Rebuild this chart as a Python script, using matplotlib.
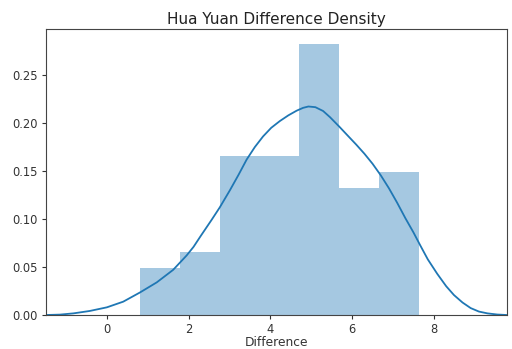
import numpy as np
import matplotlib
matplotlib.use("Agg")
import matplotlib.pyplot as plt

# Histogram (density)
bin_edges = [0.81, 1.79, 2.76, 3.74, 4.71, 5.69, 6.66, 7.64]
densities = [0.0486, 0.0653, 0.166, 0.166, 0.282, 0.132, 0.149]

# KDE curve points
kde_x = [-1.49, -1.15, -0.82, -0.42, 0.0, 0.4, 0.81, 1.22, 1.62, 1.95, 2.12,
         2.29, 2.56, 2.76, 3.01, 3.22, 3.42, 3.62, 3.82, 4.02, 4.23, 4.44,
         4.64, 4.8, 4.93, 5.1, 5.29, 5.46, 5.69, 5.9, 6.1, 6.3, 6.5, 6.7,
         6.9, 7.1, 7.3, 7.5, 7.66, 7.85, 8.08, 8.3, 8.49, 8.7, 8.9, 9.1,
         9.31, 9.55, 9.78]
kde_y = [0.0, 0.0004, 0.0017, 0.0042, 0.008, 0.0139, 0.0235, 0.034, 0.047,
         0.062, 0.071, 0.082, 0.099, 0.112, 0.130, 0.146, 0.162, 0.175,
         0.186, 0.195, 0.202, 0.208, 0.2128, 0.2158, 0.2172, 0.2165, 0.2125,
         0.206, 0.196, 0.1865, 0.1775, 0.168, 0.1575, 0.1455, 0.132, 0.117,
         0.101, 0.086, 0.073, 0.058, 0.043, 0.030, 0.0208, 0.013, 0.0072,
         0.0036, 0.0017, 0.0005, 0.0]

title = "Hua Yuan Difference Density"
xlabel = "Difference"
xticks = [0, 2, 4, 6, 8]
yticks = [0.00, 0.05, 0.10, 0.15, 0.20, 0.25]

color = "#1f77b4"

fig = plt.figure(figsize=(5.12, 3.49), dpi=100)
ax = fig.add_axes([0.0898, 0.0974, 0.8998, 0.8186])

edges = np.array(bin_edges)
ax.bar(edges[:-1], densities, width=np.diff(edges), align="edge",
       color=color, alpha=0.4, linewidth=0)
ax.plot(kde_x, kde_y, color=color, linewidth=1.3,
        solid_joinstyle="round", solid_capstyle="round")

ax.set_xlim(-1.49, 9.78)
ax.set_ylim(0, 0.2976)
ax.set_xticks(xticks)
ax.set_xticklabels([str(t) for t in xticks])
ax.set_yticks(yticks)
ax.set_yticklabels([f"{t:.2f}" for t in yticks])
ax.tick_params(labelsize=8.3, colors="#333333", length=3, pad=3)
ax.set_title(title, fontsize=11, color="#222222", pad=4)
ax.set_xlabel(xlabel, fontsize=8.8, color="#333333", labelpad=0)
for s in ax.spines.values():
    s.set_color("#444444")

fig.savefig("out.png", dpi=100)
